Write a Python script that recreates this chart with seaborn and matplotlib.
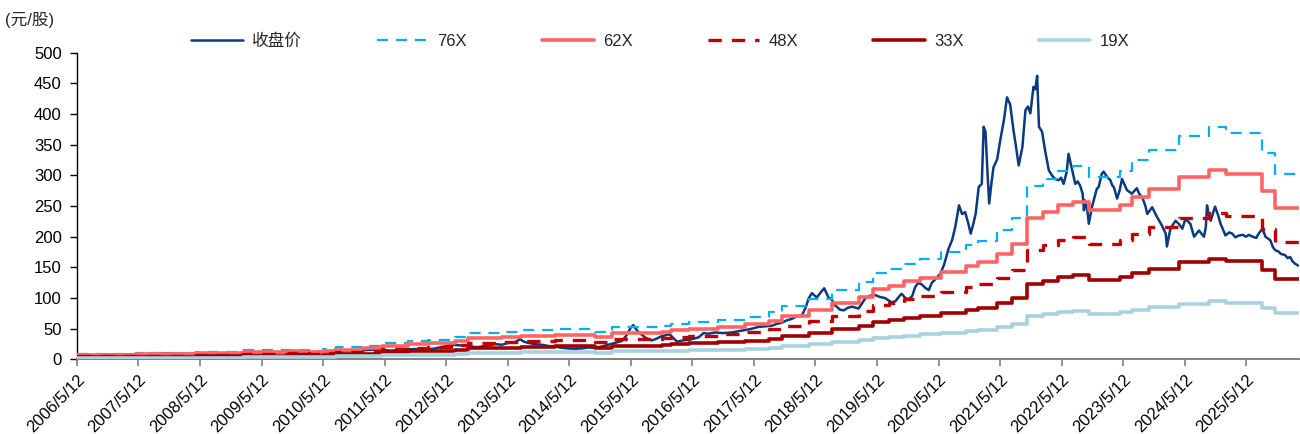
import pandas as pd
import matplotlib
matplotlib.use("Agg")
import matplotlib.pyplot as plt
import seaborn as sns

# ---------------- data ----------------
# closing price: time as decimal year, value in 元/股
price_t = [2006.36, 2006.55, 2006.75, 2006.95, 2007.15, 2007.35, 2007.55, 2007.75, 2007.95,
           2008.15, 2008.35, 2008.55, 2008.75, 2008.95, 2009.15, 2009.35, 2009.55, 2009.75,
           2009.95, 2010.15, 2010.35, 2010.55, 2010.75, 2010.95, 2011.09, 2011.31, 2011.45,
           2011.58, 2011.72, 2011.85, 2012.00, 2012.18, 2012.32, 2012.45, 2012.58, 2012.72,
           2012.85, 2012.93, 2013.05, 2013.15, 2013.26, 2013.37, 2013.47, 2013.56, 2013.62,
           2013.69, 2013.80, 2013.91, 2014.02, 2014.13, 2014.24, 2014.34, 2014.45, 2014.56,
           2014.67, 2014.78, 2014.88, 2014.99, 2015.10, 2015.21, 2015.28, 2015.32, 2015.36,
           2015.40, 2015.44, 2015.48, 2015.54, 2015.59, 2015.65, 2015.70, 2015.78, 2015.86,
           2015.99, 2016.05, 2016.11, 2016.20, 2016.30, 2016.38, 2016.46, 2016.54, 2016.62,
           2016.73, 2016.85, 2017.00, 2017.10, 2017.22, 2017.32, 2017.43, 2017.55, 2017.65,
           2017.73, 2017.81, 2017.90, 2017.97, 2018.05, 2018.14, 2018.20, 2018.25, 2018.30,
           2018.38, 2018.45, 2018.50, 2018.57, 2018.62, 2018.68, 2018.76, 2018.82, 2018.88,
           2018.95, 2019.06, 2019.12, 2019.17, 2019.25, 2019.33, 2019.40, 2019.49, 2019.55,
           2019.60, 2019.66, 2019.72, 2019.76, 2019.82, 2019.87, 2019.93, 2019.98, 2020.03,
           2020.09, 2020.14, 2020.20, 2020.25, 2020.32, 2020.39, 2020.45, 2020.52, 2020.58,
           2020.63, 2020.69, 2020.74, 2020.79, 2020.84, 2020.88, 2020.92, 2020.96, 2021.01,
           2021.06, 2021.09, 2021.12, 2021.15, 2021.18, 2021.22, 2021.25, 2021.31, 2021.36,
           2021.42, 2021.47, 2021.50, 2021.52, 2021.58, 2021.61, 2021.66, 2021.72, 2021.77,
           2021.81, 2021.85, 2021.90, 2021.93, 2021.96, 2021.99, 2022.04, 2022.09, 2022.15,
           2022.20, 2022.25, 2022.31, 2022.35, 2022.39, 2022.44, 2022.47, 2022.53, 2022.58,
           2022.62, 2022.66, 2022.70, 2022.72, 2022.74, 2022.78, 2022.80, 2022.85, 2022.93,
           2022.96, 2023.01, 2023.04, 2023.10, 2023.15, 2023.18, 2023.21, 2023.26, 2023.30,
           2023.34, 2023.38, 2023.42, 2023.50, 2023.58, 2023.62, 2023.67, 2023.72, 2023.75,
           2023.83, 2023.87, 2023.91, 2023.99, 2024.05, 2024.07, 2024.10, 2024.13, 2024.21,
           2024.27, 2024.32, 2024.37, 2024.45, 2024.51, 2024.59, 2024.67, 2024.70, 2024.72,
           2024.75, 2024.78, 2024.85, 2024.90, 2024.94, 2025.02, 2025.08, 2025.13, 2025.18,
           2025.24, 2025.30, 2025.35, 2025.40, 2025.46, 2025.52, 2025.56, 2025.62, 2025.67,
           2025.75, 2025.79, 2025.83, 2025.88, 2025.92, 2025.99, 2026.03, 2026.07, 2026.11,
           2026.15, 2026.20]
price_v = [6.5, 7, 7.5, 8, 8.5, 8, 9, 10, 9.5,
           9, 8.5, 7.5, 7, 7.5, 8.5, 10, 11, 11.5,
           11, 10.5, 11.5, 12.5, 13.5, 14.5, 15.5, 16, 14.5,
           15, 16.5, 17, 16, 18, 21, 24, 23, 22,
           20, 21, 23, 25, 24, 27, 28, 33, 29,
           27, 25, 24, 22, 21, 19, 18, 17.5, 18,
           19.5, 19, 21, 24, 27, 30, 38, 45, 52,
           56, 50, 45, 40, 36, 33, 31, 34, 38,
           41, 35, 29, 31, 32, 34, 36, 43, 42,
           44, 43, 44, 46, 48, 50, 53, 54, 55,
           58, 60, 64, 66, 70, 72, 85, 100, 108,
           101, 110, 116, 101, 98, 88, 81, 80, 84,
           86, 83, 92, 100, 104, 105, 102, 100, 96,
           93, 95, 103, 107, 100, 98, 103, 118, 125,
           122, 117, 113, 125, 132, 140, 155, 180, 195,
           216, 251, 237, 240, 222, 205, 220, 237, 281,
           286, 379, 371, 310, 254, 290, 313, 326, 357,
           390, 427, 420, 416, 370, 351, 316, 346, 406,
           412, 401, 444, 440, 462, 379, 371, 340, 308,
           300, 294, 292, 296, 286, 305, 335, 308, 286,
           290, 283, 270, 243, 259, 240, 221, 248, 278,
           281, 302, 306, 297, 292, 284, 280, 262, 275,
           294, 285, 276, 270, 279, 270, 264, 250, 237,
           248, 240, 232, 218, 205, 184, 200, 214, 226,
           220, 213, 229, 221, 200, 210, 200, 215, 251,
           235, 226, 249, 235, 221, 202, 207, 205, 199,
           202, 203, 200, 203, 200, 198, 205, 213, 200,
           194, 183, 178, 176, 172, 170, 165, 167, 160,
           156, 153]

# earnings per share behind the PE bands (step changes), decimal year start -> EPS
eps_t = [2006.36, 2007.32, 2008.30, 2009.05, 2009.81, 2010.13, 2010.36, 2010.57, 2011.00,
         2011.31, 2011.74, 2012.07, 2012.50, 2012.72, 2013.26, 2013.58, 2014.13, 2014.78,
         2015.05, 2015.86, 2016.02, 2016.30, 2016.78, 2017.22, 2017.60, 2017.81, 2018.25,
         2018.62, 2019.06, 2019.30, 2019.55, 2019.80, 2020.05, 2020.40, 2020.80, 2021.00,
         2021.30, 2021.55, 2021.80, 2022.05, 2022.30, 2022.55, 2022.80, 2023.30, 2023.50,
         2023.78, 2024.27, 2024.75, 2025.02, 2025.62, 2025.83]
eps_v = [0.12, 0.135, 0.16, 0.195, 0.21, 0.185, 0.235, 0.26, 0.295,
         0.355, 0.40, 0.42, 0.485, 0.56, 0.59, 0.63, 0.655, 0.585,
         0.69, 0.72, 0.77, 0.80, 0.85, 0.92, 1.02, 1.15, 1.30,
         1.48, 1.65, 1.85, 1.93, 2.05, 2.15, 2.30, 2.45, 2.55,
         2.78, 3.04, 3.72, 3.87, 4.05, 4.15, 3.92, 4.05, 4.27,
         4.48, 4.79, 4.98, 4.86, 4.42, 3.97]
eps_end_t = 2026.22

pe_multiples = [76, 62, 48, 33, 19]
band_labels = ["76X", "62X", "48X", "33X", "19X"]
price_label = "收盘价"
unit_label = "(元/股)"
tick_years = list(range(2006, 2026))
tick_labels = [f"{y}/5/12" for y in tick_years]
y_ticks = list(range(0, 501, 50))

# ---------------- styling ----------------
price_color = "#0b3b7e"
band_styles = [
    dict(color="#00b0f0", lw=1.6, linestyle=(0, (5, 3.5))),
    dict(color="#ff6464", lw=2.6, linestyle="-"),
    dict(color="#c00000", lw=2.4, linestyle=(0, (4, 3))),
    dict(color="#a00000", lw=2.6, linestyle="-"),
    dict(color="#a9d1df", lw=2.6, linestyle="-"),
]


def to_date(y):
    year = int(y)
    start = pd.Timestamp(year, 1, 1)
    return start + (pd.Timestamp(year + 1, 1, 1) - start) * (y - year)


sns.set_theme(style="white")
plt.rcParams["font.family"] = ["Liberation Sans", "Noto Sans CJK SC"]
plt.rcParams["axes.unicode_minus"] = False

fig = plt.figure(figsize=(13, 4.34), dpi=100)
ax = fig.add_axes([0.0592, 0.1717, 0.9398, 0.7073])

price_df = pd.DataFrame({"date": [to_date(t) for t in price_t], "value": price_v})
sns.lineplot(data=price_df, x="date", y="value", ax=ax, estimator=None,
             color=price_color, lw=1.8, label=price_label, zorder=2)

band_dates = [to_date(t) for t in eps_t] + [to_date(eps_end_t)]
band_eps = eps_v + [eps_v[-1]]
for m, lab, st in zip(pe_multiples, band_labels, band_styles):
    df = pd.DataFrame({"date": band_dates, "value": [m * e for e in band_eps]})
    sns.lineplot(data=df, x="date", y="value", ax=ax, estimator=None,
                 drawstyle="steps-post", label=lab, zorder=3,
                 color=st["color"], lw=st["lw"], linestyle=st["linestyle"])

handles, labels = ax.get_legend_handles_labels()
if ax.get_legend() is not None:
    ax.get_legend().remove()

ax.set_xlim(to_date(2006.36), to_date(2026.21))
ax.set_ylim(0, 500)
ax.set_yticks(y_ticks)
ax.set_yticklabels([str(v) for v in y_ticks], fontsize=12, color="#000000")
ax.set_xticks([pd.Timestamp(y, 5, 12) for y in tick_years])
ax.set_xticklabels(tick_labels, fontsize=12, rotation=45, ha="right",
                   va="top", rotation_mode="anchor", color="#000000")
ax.set_xlabel("")
ax.set_ylabel("")
ax.grid(False)

for side in ["top", "right"]:
    ax.spines[side].set_visible(False)
ax.spines["left"].set_color("#000000")
ax.spines["left"].set_linewidth(1.0)
ax.spines["bottom"].set_color("#808080")
ax.spines["bottom"].set_linewidth(1.4)
ax.tick_params(axis="y", direction="out", length=5, width=1, color="#000000",
               left=True, pad=6)
ax.tick_params(axis="x", direction="out", length=5, width=1.2, color="#808080",
               bottom=True, pad=4)

fig.text(5 / 1300, 1 - 20 / 434, unit_label, fontsize=12, va="center", ha="left",
         family=["Liberation Sans", "Noto Sans CJK SC"])

fig.legend(handles, labels, loc="center left", bbox_to_anchor=(191 / 1300, 1 - 41 / 434),
           ncol=6, frameon=False, fontsize=12, handlelength=3.1, handletextpad=0.55,
           columnspacing=4.5, borderpad=0, borderaxespad=0)

fig.savefig("out.png", dpi=100)
